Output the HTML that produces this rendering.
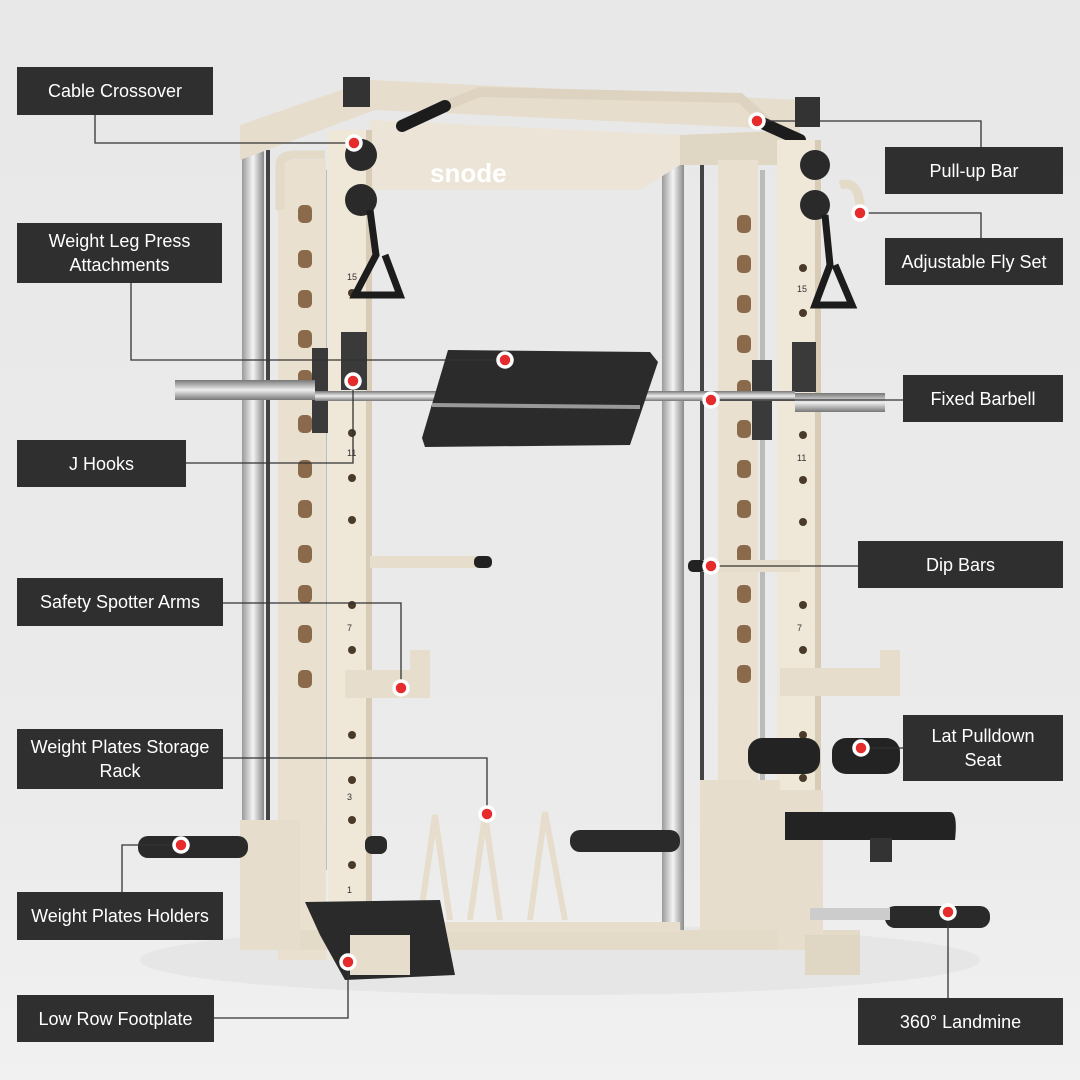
<!DOCTYPE html>
<html><head><meta charset="utf-8"><style>
html,body{margin:0;padding:0}
body{width:1080px;height:1080px;position:relative;overflow:hidden;background:linear-gradient(#e8e8e8,#ebebeb 75%,#f1f1f1);font-family:"Liberation Sans",sans-serif}
.l{position:absolute;background:#2f2f2f;color:#fff;font-size:18px;display:flex;align-items:center;justify-content:center;text-align:center;line-height:24px}
svg{position:absolute;left:0;top:0}
</style></head><body>
<svg width="1080" height="1080" viewBox="0 0 1080 1080">
<defs>
<linearGradient id="chr" x1="0" x2="1"><stop offset="0" stop-color="#9a9a9a"/><stop offset=".5" stop-color="#f4f4f4"/><stop offset="1" stop-color="#8a8a8a"/></linearGradient>
<linearGradient id="bar" x1="0" y1="0" x2="0" y2="1"><stop offset="0" stop-color="#777"/><stop offset=".5" stop-color="#eee"/><stop offset="1" stop-color="#777"/></linearGradient>
</defs>
<ellipse cx="560" cy="960" rx="420" ry="35" fill="#e6e6e6"/>
<rect x="242" y="150" width="22" height="780" fill="url(#chr)"/>
<rect x="662" y="160" width="22" height="780" fill="url(#chr)"/>
<rect x="266" y="150" width="4" height="800" fill="#444"/>
<rect x="700" y="160" width="4" height="780" fill="#444"/>
<rect x="322" y="170" width="5" height="700" fill="#bbb"/>
<rect x="760" y="170" width="5" height="700" fill="#bbb"/>
<polygon points="240,125 370,80 800,100 800,130 375,110 240,160" fill="#e6ddcc"/>
<polygon points="370,120 680,135 680,165 640,190 370,190" fill="#ece4d6"/>
<polygon points="680,135 800,130 800,165 680,165" fill="#e0d6c4"/>
<text x="430" y="182" font-size="26" font-weight="bold" fill="#fff" font-family="Liberation Sans,sans-serif">snode</text>
<path d="M400 125 L460 100 L480 92 L740 98 L770 125 L800 140" stroke="#ddd3c0" stroke-width="10" fill="none"/>
<line x1="402" y1="126" x2="445" y2="106" stroke="#1c1c1c" stroke-width="12" stroke-linecap="round"/>
<line x1="760" y1="122" x2="800" y2="140" stroke="#1c1c1c" stroke-width="12" stroke-linecap="round"/>
<rect x="343" y="77" width="27" height="30" fill="#333"/>
<rect x="795" y="97" width="25" height="30" fill="#333"/>
<rect x="278" y="160" width="48" height="800" fill="#e9e0cf"/>
<rect x="328" y="130" width="42" height="830" fill="#efe7d8"/>
<rect x="366" y="130" width="6" height="830" fill="#d8ccb6"/>
<rect x="718" y="160" width="40" height="770" fill="#e9e0cf"/>
<rect x="777" y="140" width="42" height="790" fill="#efe7d8"/>
<rect x="815" y="140" width="6" height="790" fill="#d8ccb6"/>
<g fill="#8a6a4a">
<rect x="298" y="205" width="14" height="18" rx="5"/><rect x="298" y="250" width="14" height="18" rx="5"/><rect x="298" y="290" width="14" height="18" rx="5"/><rect x="298" y="330" width="14" height="18" rx="5"/><rect x="298" y="370" width="14" height="18" rx="5"/><rect x="298" y="415" width="14" height="18" rx="5"/><rect x="298" y="460" width="14" height="18" rx="5"/><rect x="298" y="500" width="14" height="18" rx="5"/><rect x="298" y="545" width="14" height="18" rx="5"/><rect x="298" y="585" width="14" height="18" rx="5"/><rect x="298" y="625" width="14" height="18" rx="5"/><rect x="298" y="670" width="14" height="18" rx="5"/>
<rect x="737" y="215" width="14" height="18" rx="5"/><rect x="737" y="255" width="14" height="18" rx="5"/><rect x="737" y="295" width="14" height="18" rx="5"/><rect x="737" y="335" width="14" height="18" rx="5"/><rect x="737" y="380" width="14" height="18" rx="5"/><rect x="737" y="420" width="14" height="18" rx="5"/><rect x="737" y="460" width="14" height="18" rx="5"/><rect x="737" y="500" width="14" height="18" rx="5"/><rect x="737" y="545" width="14" height="18" rx="5"/><rect x="737" y="585" width="14" height="18" rx="5"/><rect x="737" y="625" width="14" height="18" rx="5"/><rect x="737" y="665" width="14" height="18" rx="5"/>
</g>
<g fill="#4a3a2a">
<circle cx="352" cy="293" r="4"/><circle cx="352" cy="433" r="4"/><circle cx="352" cy="478" r="4"/><circle cx="352" cy="520" r="4"/><circle cx="352" cy="605" r="4"/><circle cx="352" cy="650" r="4"/><circle cx="352" cy="735" r="4"/><circle cx="352" cy="780" r="4"/><circle cx="352" cy="820" r="4"/><circle cx="352" cy="865" r="4"/>
<circle cx="803" cy="268" r="4"/><circle cx="803" cy="313" r="4"/><circle cx="803" cy="435" r="4"/><circle cx="803" cy="480" r="4"/><circle cx="803" cy="522" r="4"/><circle cx="803" cy="605" r="4"/><circle cx="803" cy="650" r="4"/><circle cx="803" cy="735" r="4"/><circle cx="803" cy="778" r="4"/>
</g>
<g font-size="9" fill="#333"><text x="347" y="280">15</text><text x="347" y="456">11</text><text x="347" y="631">7</text><text x="347" y="800">3</text><text x="347" y="893">1</text><text x="797" y="292">15</text><text x="797" y="461">11</text><text x="797" y="631">7</text><text x="797" y="800">3</text></g>
<circle cx="361" cy="155" r="16" fill="#2a2a2a"/><circle cx="361" cy="200" r="16" fill="#2a2a2a"/>
<circle cx="815" cy="165" r="15" fill="#2a2a2a"/><circle cx="815" cy="205" r="15" fill="#2a2a2a"/>
<path d="M370 210 L376 255 L355 295 L400 295 L385 255" stroke="#1c1c1c" stroke-width="7" fill="none"/>
<path d="M825 215 L830 265 L815 305 L852 305 L835 265" stroke="#1c1c1c" stroke-width="7" fill="none"/>
<path d="M280 210 L280 165 Q280 155 295 155 L325 155" stroke="#e3dac8" stroke-width="9" fill="none"/>
<path d="M840 185 Q858 180 860 205 L860 215" stroke="#e3dac8" stroke-width="9" fill="none"/>
<rect x="312" y="348" width="16" height="85" fill="#3a3a3a"/>
<rect x="341" y="332" width="26" height="58" fill="#3a3a3a"/>
<rect x="752" y="360" width="20" height="80" fill="#3a3a3a"/>
<rect x="792" y="342" width="24" height="50" fill="#3a3a3a"/>
<rect x="175" y="380" width="140" height="20" fill="url(#bar)"/>
<rect x="315" y="391" width="480" height="10" fill="url(#bar)"/>
<rect x="795" y="393" width="90" height="19" fill="url(#bar)"/>
<polygon points="448,350 650,352 658,362 630,445 425,447 422,438" fill="#2b2b2b"/>
<line x1="432" y1="405" x2="640" y2="407" stroke="#999" stroke-width="4"/>
<rect x="370" y="556" width="120" height="12" fill="#e6ddcc"/><rect x="474" y="556" width="18" height="12" rx="5" fill="#222"/>
<rect x="690" y="560" width="110" height="12" fill="#e6ddcc"/><rect x="688" y="560" width="18" height="12" rx="5" fill="#222"/>
<polygon points="345,670 410,670 410,650 430,650 430,698 345,698" fill="#e6ddcc"/>
<polygon points="780,668 880,668 880,650 900,650 900,696 780,696" fill="#e6ddcc"/>
<rect x="240" y="930" width="620" height="20" fill="#e3dac8"/>
<rect x="440" y="922" width="240" height="10" fill="#e6ddcc"/>
<path d="M420 920 L435 815 L450 920 M470 920 L485 815 L500 920 M530 920 L545 812 L565 920" stroke="#e6ddcc" stroke-width="6" fill="none"/>
<rect x="240" y="820" width="60" height="130" fill="#e6ddcc"/>
<rect x="778" y="790" width="45" height="160" fill="#e6ddcc"/>
<rect x="700" y="780" width="80" height="150" fill="#e6ddcc"/>
<rect x="138" y="836" width="110" height="22" rx="10" fill="#2a2a2a"/>
<rect x="365" y="836" width="22" height="18" rx="7" fill="#2a2a2a"/>
<rect x="570" y="830" width="110" height="22" rx="10" fill="#2a2a2a"/>
<rect x="885" y="906" width="105" height="22" rx="10" fill="#2a2a2a"/>
<rect x="810" y="908" width="80" height="12" fill="#ccc"/>
<rect x="805" y="935" width="55" height="40" fill="#e0d6c4"/>
<rect x="748" y="738" width="72" height="36" rx="14" fill="#232323"/>
<rect x="832" y="738" width="68" height="36" rx="14" fill="#232323"/>
<path d="M785 812 L950 812 Q958 812 955 840 L785 840 Z" fill="#232323"/>
<rect x="870" y="838" width="22" height="24" fill="#333"/>
<polygon points="305,902 440,900 455,975 345,980 320,935" fill="#2a2a2a"/>
<rect x="350" y="935" width="60" height="40" fill="#e6ddcc"/>
<g stroke="#333" stroke-width="1.3" fill="none">
<polyline points="95,115 95,143 354,143"/>
<polyline points="131,283 131,360 505,360"/>
<polyline points="186,463 353,463 353,381"/>
<polyline points="223,603 401,603 401,688"/>
<polyline points="223,758 487,758 487,814"/>
<polyline points="122,892 122,845 181,845"/>
<polyline points="214,1018 348,1018 348,962"/>
<polyline points="757,121 981,121 981,147"/>
<polyline points="860,213 981,213 981,238"/>
<polyline points="711,400 903,400"/>
<polyline points="711,566 858,566"/>
<polyline points="861,748 903,748"/>
<polyline points="948,912 948,998"/>
</g>
<g fill="#e52b2b" stroke="#fff" stroke-width="3.5">
<circle cx="354" cy="143" r="7"/><circle cx="505" cy="360" r="7"/><circle cx="353" cy="381" r="7"/><circle cx="401" cy="688" r="7"/><circle cx="487" cy="814" r="7"/><circle cx="181" cy="845" r="7"/><circle cx="348" cy="962" r="7"/><circle cx="757" cy="121" r="7"/><circle cx="860" cy="213" r="7"/><circle cx="711" cy="400" r="7"/><circle cx="711" cy="566" r="7"/><circle cx="861" cy="748" r="7"/><circle cx="948" cy="912" r="7"/>
</g>
</svg>
<div class="l" style="left:17px;top:67px;width:196px;height:48px">Cable Crossover</div>
<div class="l" style="left:17px;top:223px;width:205px;height:60px">Weight Leg Press<br>Attachments</div>
<div class="l" style="left:17px;top:440px;width:169px;height:47px">J Hooks</div>
<div class="l" style="left:17px;top:578px;width:206px;height:48px">Safety Spotter Arms</div>
<div class="l" style="left:17px;top:729px;width:206px;height:60px">Weight Plates Storage<br>Rack</div>
<div class="l" style="left:17px;top:892px;width:206px;height:48px">Weight Plates Holders</div>
<div class="l" style="left:17px;top:995px;width:197px;height:47px">Low Row Footplate</div>
<div class="l" style="left:885px;top:147px;width:178px;height:47px">Pull-up Bar</div>
<div class="l" style="left:885px;top:238px;width:178px;height:47px">Adjustable Fly Set</div>
<div class="l" style="left:903px;top:375px;width:160px;height:47px">Fixed Barbell</div>
<div class="l" style="left:858px;top:541px;width:205px;height:47px">Dip Bars</div>
<div class="l" style="left:903px;top:715px;width:160px;height:66px">Lat Pulldown<br>Seat</div>
<div class="l" style="left:858px;top:998px;width:205px;height:47px">360° Landmine</div>
</body></html>
